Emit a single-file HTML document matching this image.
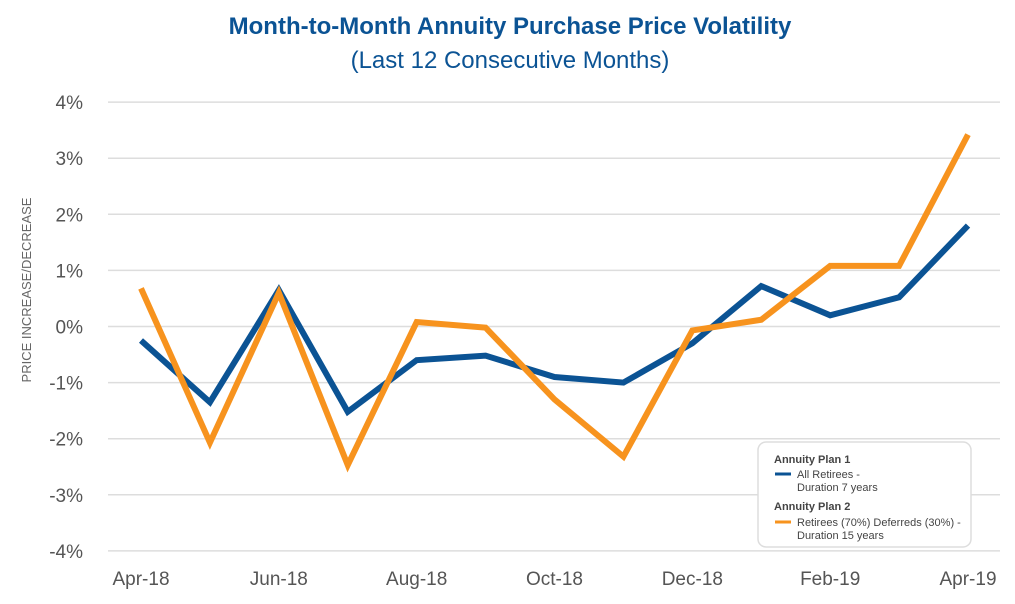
<!DOCTYPE html>
<html><head><meta charset="utf-8"><style>
body{margin:0;background:#fff;font-family:"Liberation Sans",sans-serif;}
svg text{font-family:"Liberation Sans",sans-serif;}
</style></head><body>
<svg id="chart" width="1015" height="599" xmlns="http://www.w3.org/2000/svg">
<text x="510" y="34" text-anchor="middle" font-size="24" font-weight="bold" fill="#0b5394">Month-to-Month Annuity Purchase Price Volatility</text>
<text x="510" y="68" text-anchor="middle" font-size="24" fill="#0b5394">(Last 12 Consecutive Months)</text>
<text transform="translate(31,290) rotate(-90)" text-anchor="middle" font-size="13" fill="#666">PRICE INCREASE/DECREASE</text>
<g id="grid"></g><g id="lines"></g>
<g>
<rect x="758" y="442" width="213" height="105" rx="8" fill="#fff" stroke="#ddd" stroke-width="1.5"/>
<text x="774" y="463" font-size="11" font-weight="bold" fill="#444">Annuity Plan 1</text>
<line x1="775" y1="474" x2="791" y2="474" stroke="#0b5394" stroke-width="3"/>
<text x="797" y="478" font-size="11" fill="#444">All Retirees -</text>
<text x="797" y="491" font-size="11" fill="#444">Duration 7 years</text>
<text x="774" y="510" font-size="11" font-weight="bold" fill="#444">Annuity Plan 2</text>
<line x1="775" y1="522" x2="791" y2="522" stroke="#f7931e" stroke-width="3"/>
<text x="797" y="526" font-size="11" fill="#444">Retirees (70%) Deferreds (30%) -</text>
<text x="797" y="539" font-size="11" fill="#444">Duration 15 years</text>
</g>
</svg>
<script>
const months=["Apr-18","May-18","Jun-18","Jul-18","Aug-18","Sep-18","Oct-18","Nov-18","Dec-18","Jan-19","Feb-19","Mar-19","Apr-19"];
const plan1=[-0.25,-1.35,0.65,-1.52,-0.6,-0.52,-0.9,-1.0,-0.3,0.72,0.2,0.52,1.8];
const plan2=[0.68,-2.07,0.6,-2.47,0.08,-0.02,-1.3,-2.32,-0.07,0.12,1.08,1.08,3.42];
const yTicks=[4,3,2,1,0,-1,-2,-3,-4];
const NS="http://www.w3.org/2000/svg";
const x=i=>141+i*(968-141)/12;
const y=v=>326.5-v*56.1;
const grid=document.getElementById('grid'),lines=document.getElementById('lines');
yTicks.forEach(t=>{
 const l=document.createElementNS(NS,'line');
 l.setAttribute('x1',108);l.setAttribute('x2',1000);l.setAttribute('y1',y(t));l.setAttribute('y2',y(t));
 l.setAttribute('stroke','#ddd');l.setAttribute('stroke-width','1.5');
 
 
 grid.appendChild(l);
 const tx=document.createElementNS(NS,'text');
 tx.setAttribute('x',83);tx.setAttribute('y',y(t)+7);tx.setAttribute('text-anchor','end');
 tx.setAttribute('font-size','19');tx.setAttribute('fill','#555');
 tx.textContent=t+'%';
 
 
 grid.appendChild(tx);
});
months.forEach((m,i)=>{
 if(i%2) return;
 const tx=document.createElementNS(NS,'text');
 tx.setAttribute('x',x(i));tx.setAttribute('y',585);tx.setAttribute('text-anchor','middle');
 tx.setAttribute('font-size','19');tx.setAttribute('fill','#555');
 tx.textContent=m;
 
 
 grid.appendChild(tx);
});
function draw(vals,color,name){
 const p=document.createElementNS(NS,'polyline');
 p.setAttribute('points',vals.map((v,i)=>x(i)+','+y(v)).join(' '));
 p.setAttribute('fill','none');p.setAttribute('stroke',color);p.setAttribute('stroke-width','6');
 p.setAttribute('stroke-linejoin','miter');
 
 
 lines.appendChild(p);
}
draw(plan1,'#0b5394','plan1-line');
draw(plan2,'#f7931e','plan2-line');
</script>
</body></html>
